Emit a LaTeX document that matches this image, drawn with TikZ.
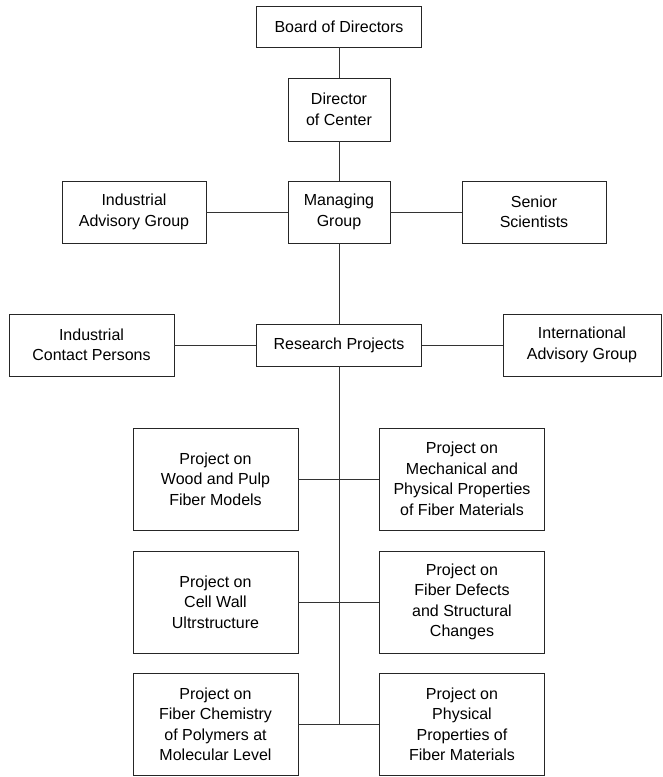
\documentclass[tikz,border=0pt]{standalone}
\usepackage{fontspec}
\setmainfont{Liberation Sans}
\begin{document}
\begin{tikzpicture}[x=1pt,y=-1pt,
  box/.style={draw=black!85, line width=0.9pt, fill=white, inner sep=0pt, align=center,
    font=\fontsize{16}{20.5}\selectfont, text=black},
  conn/.style={draw=black!80, line width=0.9pt}]
\useasboundingbox (0,0) rectangle (662,777);
% nodes
\node[box, minimum width=165pt, minimum height=41pt] (board) at (339,26.5) {Board of Directors};
\node[box, minimum width=102pt, minimum height=63pt] (director) at (339,109.5) {Director\\of Center};
\node[box, minimum width=102pt, minimum height=62pt] (managing) at (339,212) {Managing\\Group};
\node[box, minimum width=144pt, minimum height=62pt] (iag) at (134,212) {Industrial\\Advisory Group};
\node[box, minimum width=144pt, minimum height=62pt] (senior) at (534,212) {Senior\\Scientists};
\node[box, minimum width=165pt, minimum height=62pt] (contact) at (91.5,345) {Industrial\\Contact Persons};
\node[box, minimum width=165pt, minimum height=42pt] (research) at (339,345) {Research Projects};
\node[box, minimum width=158pt, minimum height=62pt] (intl) at (582,345) {International\\Advisory Group};
\node[box, minimum width=165pt, minimum height=102pt] (p1l) at (215.5,479) {Project on\\Wood and Pulp\\Fiber Models};
\node[box, minimum width=165pt, minimum height=102pt] (p1r) at (462,479) {Project on\\Mechanical and\\Physical Properties\\of Fiber Materials};
\node[box, minimum width=165pt, minimum height=102pt] (p2l) at (215.5,602) {Project on\\Cell Wall\\Ultrstructure};
\node[box, minimum width=165pt, minimum height=102pt] (p2r) at (462,602) {Project on\\Fiber Defects\\and Structural\\Changes};
\node[box, minimum width=165pt, minimum height=102pt] (p3l) at (215.5,724.5) {Project on\\Fiber Chemistry\\of Polymers at\\Molecular Level};
\node[box, minimum width=165pt, minimum height=102pt] (p3r) at (462,724.5) {Project on\\Physical\\Properties of\\Fiber Materials};
\coordinate (j3) at (339,724.5);
% connectors
\draw[conn] (board) -- (director);
\draw[conn] (director) -- (managing);
\draw[conn] (managing) -- (research);
\draw[conn] (iag) -- (managing);
\draw[conn] (managing) -- (senior);
\draw[conn] (contact) -- (research);
\draw[conn] (research) -- (intl);
\draw[conn] (research.south) -- (j3);
\draw[conn] (p1l) -- (p1r);
\draw[conn] (p2l) -- (p2r);
\draw[conn] (p3l) -- (p3r);
\end{tikzpicture}
\end{document}
